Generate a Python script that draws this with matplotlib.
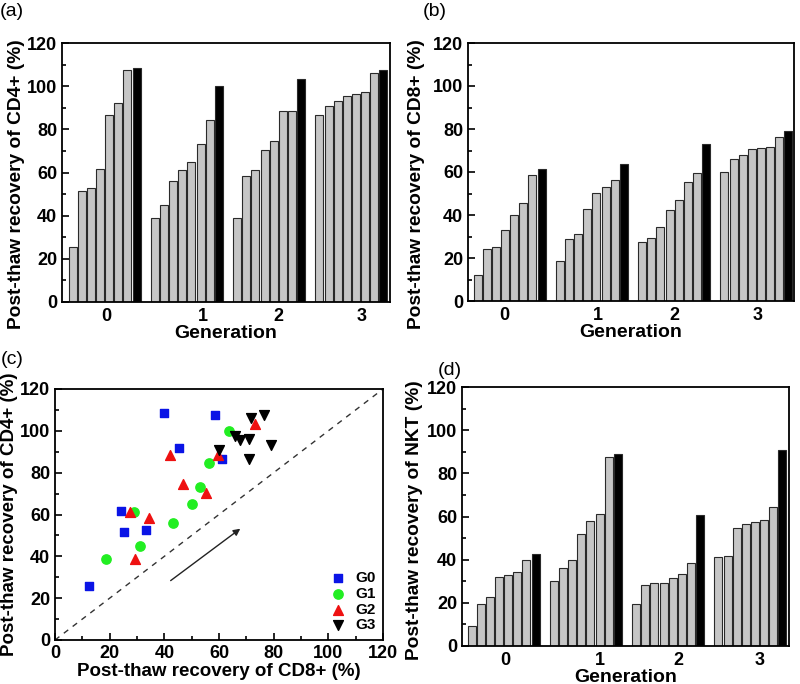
import numpy as np
import matplotlib
matplotlib.use('Agg')
import matplotlib.pyplot as plt
from matplotlib.ticker import MultipleLocator

plt.rcParams['font.family'] = ['Liberation Sans', 'DejaVu Sans']
plt.rcParams['font.weight'] = 'bold'
plt.rcParams['axes.labelweight'] = 'bold'

# data (sorted as drawn, last bar is the black one)
generations = ['0', '1', '2', '3']
cd4_g0 = [25.6, 51.5, 52.8, 61.5, 86.5, 92.0, 107.5, 108.5]
cd4_g1 = [38.8, 45.0, 56.0, 61.0, 65.0, 73.0, 84.5, 100.0]
cd4_g2 = [38.7, 58.5, 61.0, 70.5, 74.5, 88.3, 88.4, 103.3]
cd4_g3 = [86.5, 91.0, 93.0, 95.5, 96.2, 97.5, 106.0, 107.5]

cd8_g0 = [12.3, 24.2, 25.2, 33.2, 40.0, 45.5, 58.5, 61.2]
cd8_g1 = [18.8, 29.0, 31.0, 43.0, 50.3, 53.0, 56.2, 63.6]
cd8_g2 = [27.3, 29.2, 34.5, 42.2, 46.8, 55.2, 59.5, 73.2]
cd8_g3 = [60.0, 66.0, 67.7, 70.8, 71.0, 71.7, 76.3, 79.0]

nkt_g0 = [9.3, 19.5, 22.9, 31.8, 32.7, 34.3, 39.8, 42.6]
nkt_g1 = [30.2, 36.0, 39.8, 51.8, 58.0, 61.2, 87.5, 89.0]
nkt_g2 = [19.5, 28.2, 29.2, 29.4, 31.3, 33.2, 38.3, 60.8]
nkt_g3 = [41.2, 41.6, 54.8, 56.3, 57.5, 58.3, 64.2, 90.8]

# scatter pairs (CD8, CD4) per generation
sc_g0_cd8 = [12.3, 25.2, 33.2, 24.2, 61.2, 45.5, 58.5, 40.0]
sc_g0_cd4 = [25.6, 51.5, 52.8, 61.5, 86.5, 92.0, 107.5, 108.5]
sc_g1_cd8 = [18.8, 31.0, 43.0, 29.0, 50.3, 53.0, 56.2, 63.6]
sc_g1_cd4 = [38.8, 45.0, 56.0, 61.0, 65.0, 73.0, 84.5, 100.0]
sc_g2_cd8 = [29.2, 34.5, 27.3, 55.2, 46.8, 42.2, 59.5, 73.2]
sc_g2_cd4 = [38.7, 58.5, 61.0, 70.5, 74.5, 88.3, 88.4, 103.3]
sc_g3_cd8 = [60.0, 66.0, 67.7, 70.8, 71.0, 71.7, 76.3, 79.0]
sc_g3_cd4 = [91.0, 97.5, 95.5, 96.2, 86.5, 106.0, 107.5, 93.0]

W, H = 800, 684
fig = plt.figure(figsize=(W / 100, H / 100), dpi=100)


def px_axes(left, top, right, bottom):
    return fig.add_axes([left / W, 1 - bottom / H, (right - left) / W, (bottom - top) / H])


def style_axes(ax, size):
    for s in ax.spines.values():
        s.set_linewidth(1.3)
    ax.tick_params(which='both', direction='in', labelsize=size, width=1.2)
    ax.tick_params(which='major', length=5)
    ax.tick_params(which='minor', length=3)
    plt.setp(ax.get_xticklabels() + ax.get_yticklabels(), fontweight='bold')


def bar_panel(ax, groups, ylabel, xlim, tickpos, ylab_xy):
    for g, vals in enumerate(groups):
        x = g * 9 + np.arange(len(vals))
        cols = ['#c6c6c6'] * (len(vals) - 1) + ['black']
        ax.bar(x, vals, width=0.88, color=cols, edgecolor='#2a2a2a', linewidth=0.8)
    ax.set_xlim(*xlim)
    ax.set_ylim(0, 120)
    ax.yaxis.set_major_locator(MultipleLocator(20))
    ax.yaxis.set_minor_locator(MultipleLocator(10))
    ax.set_xticks(tickpos)
    ax.set_xticklabels(generations)
    style_axes(ax, 13)
    ax.tick_params(axis='x', length=0, pad=4)
    ax.set_xlabel('Generation', fontsize=14, fontweight='bold', labelpad=0)
    ax.set_ylabel(ylabel, fontsize=13.8, fontweight='bold')
    ax.yaxis.set_label_coords(*ylab_xy)


ax_a = px_axes(62, 43, 390, 302)
bar_panel(ax_a, [cd4_g0, cd4_g1, cd4_g2, cd4_g3], 'Post-thaw recovery of CD4+ (%)',
          (-1.16, 34.72), [3.65, 14.27, 22.47, 31.66], (-0.113, 0.455))

ax_b = px_axes(468, 43, 794, 301)
bar_panel(ax_b, [cd8_g0, cd8_g1, cd8_g2, cd8_g3], 'Post-thaw recovery of CD8+ (%)',
          (-1.05, 34.61), [2.89, 13.17, 21.49, 30.68], (-0.132, 0.455))

ax_d = px_axes(462, 387, 789, 646)
bar_panel(ax_d, [nkt_g0, nkt_g1, nkt_g2, nkt_g3], 'Post-thaw recovery of NKT (%)',
          (-1.05, 34.72), [3.65, 14.05, 22.58, 31.55], (-0.119, 0.485))

# scatter panel
ax_c = px_axes(55, 389, 383, 640)
ax_c.plot([0, 120], [0, 120], ls=(0, (4, 4)), color='#333333', lw=1)
ax_c.scatter(sc_g0_cd8, sc_g0_cd4, marker='s', s=30, color='#0a14e6', label='G0', zorder=3)
ax_c.scatter(sc_g1_cd8, sc_g1_cd4, marker='o', s=45, color='#22ee22', label='G1', zorder=3)
ax_c.scatter(sc_g2_cd8, sc_g2_cd4, marker='^', s=50, color='#ee1111', label='G2', zorder=3)
ax_c.scatter(sc_g3_cd8, sc_g3_cd4, marker='v', s=50, color='black', label='G3', zorder=3)
ax_c.annotate('', xy=(68.6, 54), xytext=(41.5, 27.6),
              arrowprops=dict(arrowstyle='-|>', color='#222222', lw=1, mutation_scale=10))
ax_c.set_xlim(0, 120)
ax_c.set_ylim(0, 120)
for axis in (ax_c.xaxis, ax_c.yaxis):
    axis.set_major_locator(MultipleLocator(20))
    axis.set_minor_locator(MultipleLocator(10))
style_axes(ax_c, 13)
ax_c.set_xlabel('Post-thaw recovery of CD8+ (%)', fontsize=13.5, fontweight='bold', labelpad=1)
ax_c.set_ylabel('Post-thaw recovery of CD4+ (%)', fontsize=13.5, fontweight='bold', labelpad=1)
leg = ax_c.legend(loc='lower right', frameon=False, fontsize=11, handletextpad=0.5,
                  labelspacing=0.12, borderaxespad=0.1, handlelength=1.2)
for t in leg.get_texts():
    t.set_fontweight('bold')

# panel letters
for txt, x, y in [('(a)', 0, 12), ('(b)', 423, 12), ('(c)', 1, 359), ('(d)', 438, 370)]:
    fig.text(x / W, 1 - y / H, txt, fontsize=14, fontweight='normal', va='center', ha='left')

fig.savefig('out.png', dpi=100)
